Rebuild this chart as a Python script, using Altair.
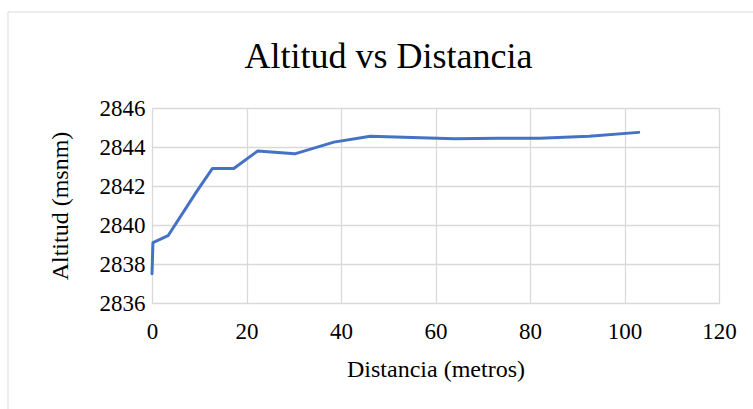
import altair as alt
import pandas as pd

# Data
distancia = [0, 0.2, 3.4, 9.4, 12.8, 17.3, 22.4, 30.2, 38.5, 46.2, 64.0, 73.0, 82.0, 92.5, 103.0]
altitud = [2837.5, 2839.1, 2839.45, 2841.7, 2842.9, 2842.9, 2843.8, 2843.65, 2844.25, 2844.55,
           2844.42, 2844.45, 2844.45, 2844.55, 2844.75]
x_ticks = [0, 20, 40, 60, 80, 100, 120]
y_ticks = [2836, 2838, 2840, 2842, 2844, 2846]

df = pd.DataFrame({"Distancia": distancia, "Altitud": altitud})

FONT = "Liberation Serif"

line = alt.Chart(df).mark_line(color="#4472C4", strokeWidth=3, strokeCap="round", strokeJoin="round").encode(
    x=alt.X("Distancia:Q",
            scale=alt.Scale(domain=[0, 120], nice=False, zero=False),
            axis=alt.Axis(values=x_ticks, title="Distancia (metros)", labelPadding=17,
                          titlePadding=14, format="d", labelFlush=False)),
    y=alt.Y("Altitud:Q",
            scale=alt.Scale(domain=[2836, 2846], nice=False, zero=False),
            axis=alt.Axis(values=y_ticks, title="Altitud (msnm)", labelPadding=7,
                          titlePadding=27, format="d", labelFlush=False)),
    order=alt.Order("Distancia:Q"),
)

border = alt.Chart(alt.Data(values=[{"a": 0}])).mark_rect(
    fillOpacity=0, stroke="#d9d9d9", strokeWidth=1
).encode(
    x=alt.value(-144), x2=alt.value(640),
    y=alt.value(-96), y2=alt.value(320),
)

chart = alt.layer(border, line).properties(
    width=567,
    height=195,
    title=alt.TitleParams("Altitud vs Distancia", anchor="middle", frame="group",
                          dx=-47, offset=-92, baseline="alphabetic", fontSize=36, font=FONT,
                          fontWeight="normal", color="#000000"),
    autosize=alt.AutoSizeParams(type="none"),
    padding={"left": 152, "top": 108, "right": 34, "bottom": 106},
    background="white",
).configure_view(
    stroke=None
).configure_axis(
    grid=True,
    gridColor="#d9d9d9",
    gridWidth=1.3,
    domain=False,
    ticks=False,
    labelFont=FONT,
    labelFontSize=23,
    labelColor="#000000",
    titleFont=FONT,
    titleFontSize=24,
    titleFontWeight="normal",
    titleColor="#000000",
)

chart.save("out.html", embed_options={"renderer": "svg", "actions": False})
